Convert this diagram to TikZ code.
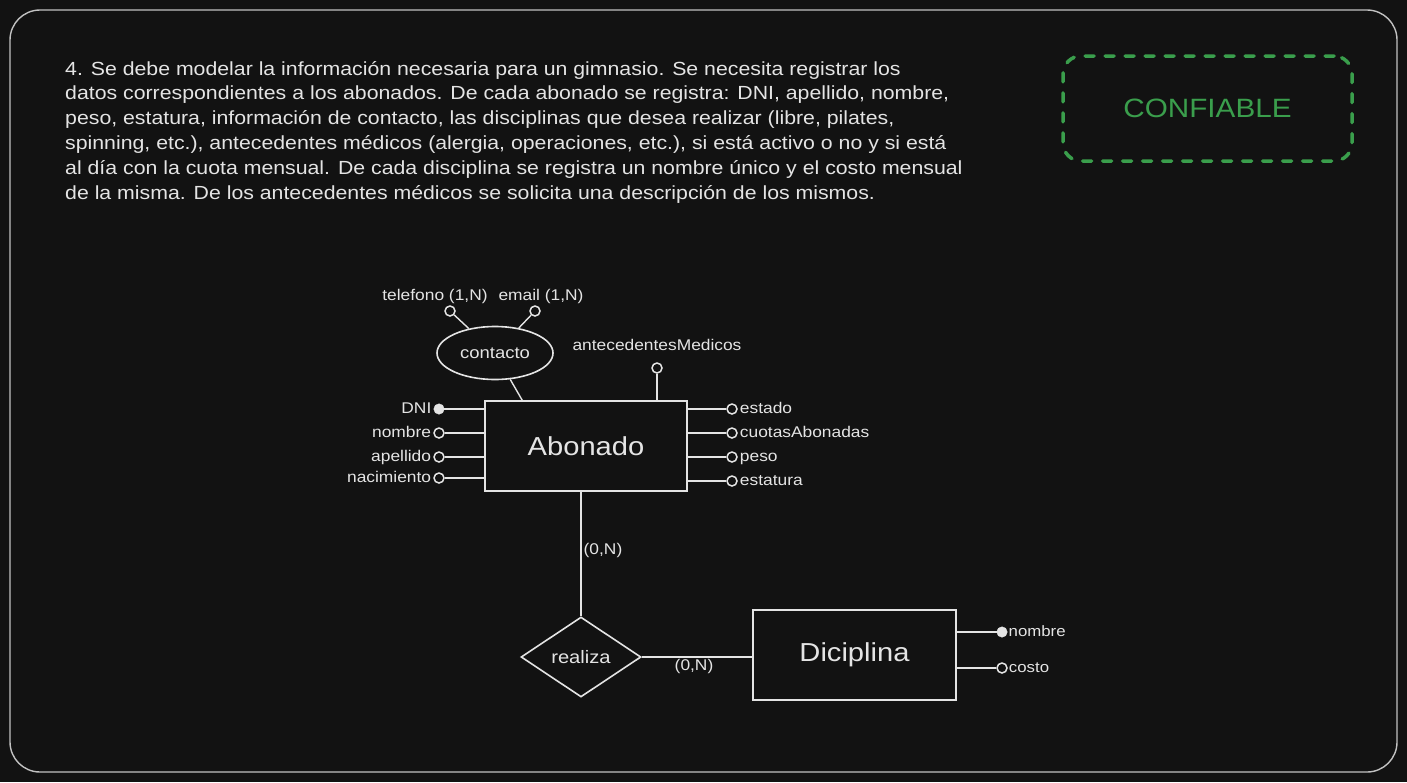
\documentclass[tikz,border=0pt]{standalone}
\usepackage{fontspec}
\setmainfont{Liberation Sans}[FakeStretch=1.12]
\usetikzlibrary{shapes.geometric}
\definecolor{bgdark}{HTML}{121212}
\definecolor{ink}{HTML}{E4E4E4}
\definecolor{okgreen}{HTML}{3A9E4C}
\tikzset{
  entidad/.style={draw=ink, line width=1.6pt, minimum width=202pt, minimum height=90pt, text=ink, font=\fontsize{26}{28}\selectfont},
  attrvacio/.style={circle, draw=ink, line width=1.5pt, fill=bgdark, inner sep=0pt, minimum size=10pt},
  attrclave/.style={circle, draw=ink, fill=ink, inner sep=0pt, minimum size=10.5pt},
  etiqueta/.style={text=ink, font=\fontsize{15.5}{18}\selectfont, inner sep=2pt, text height=11pt, text depth=3pt},
  linea/.style={draw=ink, line width=1.4pt}
}
\begin{document}
\begin{tikzpicture}[x=1pt, y=-1pt]
% draw background and frame
    \fill[bgdark] (0,0) rectangle (1407,782);
    \draw[ink!85!black, line width=1.4pt, rounded corners=30pt] (10,10) rectangle (1397,772);
    % statement
    \node[anchor=north west, align=left, text=ink, inner sep=0pt, font=\fontsize{19}{24.8}\selectfont] (enunciado) at (65,61)
      {4. Se debe modelar la información necesaria para un gimnasio. Se necesita registrar los\\
       datos correspondientes a los abonados. De cada abonado se registra: DNI, apellido, nombre,\\
       peso, estatura, información de contacto, las disciplinas que desea realizar (libre, pilates,\\
       spinning, etc.), antecedentes médicos (alergia, operaciones, etc.), si está activo o no y si está\\
       al día con la cuota mensual. De cada disciplina se registra un nombre único y el costo mensual\\
       de la misma. De los antecedentes médicos se solicita una descripción de los mismos.};
    % draw badge
    \node[draw=okgreen, line width=3.5pt, dash pattern=on 9pt off 11pt, line cap=round, rounded corners=18pt,
          minimum width=289pt, minimum height=105pt, text=okgreen, font=\fontsize{26.5}{29}\selectfont] (confiable) at (1207.5,108.5) {CONFIABLE};
    % draw entities
    \node[entidad] (abonado) at (586,446) {Abonado};
    \node[entidad, minimum width=203pt] (diciplina) at (854.5,655) {Diciplina};
    \node[draw=ink, line width=1.6pt, diamond, aspect=1.5, minimum width=120pt, minimum height=80pt, text=ink, font=\fontsize{18}{20}\selectfont] (realiza) at (581,657) {realiza};
    \node[draw=ink, line width=1.6pt, ellipse, minimum width=116pt, minimum height=53pt, text=ink, font=\fontsize{16.5}{18}\selectfont] (contacto) at (495,353) {contacto};
    % draw composite attribute
    \node[attrvacio, label={[etiqueta, xshift=-15pt]above:telefono (1,N)}] (telefono) at (450,311) {};
    \node[attrvacio, label={[etiqueta, xshift=6pt]above:email (1,N)}] (email) at (535,311) {};
    \draw[linea] (telefono) -- (contacto);
    \draw[linea] (email) -- (contacto);
    \draw[linea] (contacto) -- ([xshift=38pt]abonado.north west);
    \node[attrvacio, label={[etiqueta, label distance=7pt]above:antecedentesMedicos}] (antecedentes) at (657,368) {};
    \draw[linea] (antecedentes) -- (antecedentes |- abonado.north);
    % draw attributes of Abonado
    \node[attrclave, label={[etiqueta]left:DNI}] (dni) at (439,409) {};
    \node[attrvacio, label={[etiqueta]left:nombre}] (nombre) at (439,433) {};
    \node[attrvacio, label={[etiqueta]left:apellido}] (apellido) at (439,457) {};
    \node[attrvacio, label={[etiqueta]left:nacimiento}] (nacimiento) at (439,478) {};
    \node[attrvacio, label={[etiqueta]right:estado}] (estado) at (732,409) {};
    \node[attrvacio, label={[etiqueta]right:cuotasAbonadas}] (cuotas) at (732,433) {};
    \node[attrvacio, label={[etiqueta]right:peso}] (peso) at (732,457) {};
    \node[attrvacio, label={[etiqueta]right:estatura}] (estatura) at (732,481) {};
    \foreach \a in {dni, nombre, apellido, nacimiento}
      \draw[linea] (\a) -- (abonado.west |- \a);
    \foreach \a in {estado, cuotas, peso, estatura}
      \draw[linea] (\a) -- (abonado.east |- \a);
    % draw attributes of Diciplina
    \node[attrclave, label={[etiqueta, font=\fontsize{15}{17}\selectfont, inner sep=1pt]right:nombre}] (dnombre) at (1002,632) {};
    \node[attrvacio, label={[etiqueta, font=\fontsize{15}{17}\selectfont, inner sep=1pt]right:costo}] (dcosto) at (1002,668) {};
    \draw[linea] (dnombre) -- (diciplina.east |- dnombre);
    \draw[linea] (dcosto) -- (diciplina.east |- dcosto);
    % draw relationship
    \draw[linea] (realiza.north |- abonado.south) -- node[etiqueta, right, pos=0.47] {(0,N)} (realiza.north);
    \draw[linea] (realiza.east) -- node[etiqueta, below, xshift=-3pt] {(0,N)} (diciplina.west |- realiza.east);
\end{tikzpicture}
\end{document}
